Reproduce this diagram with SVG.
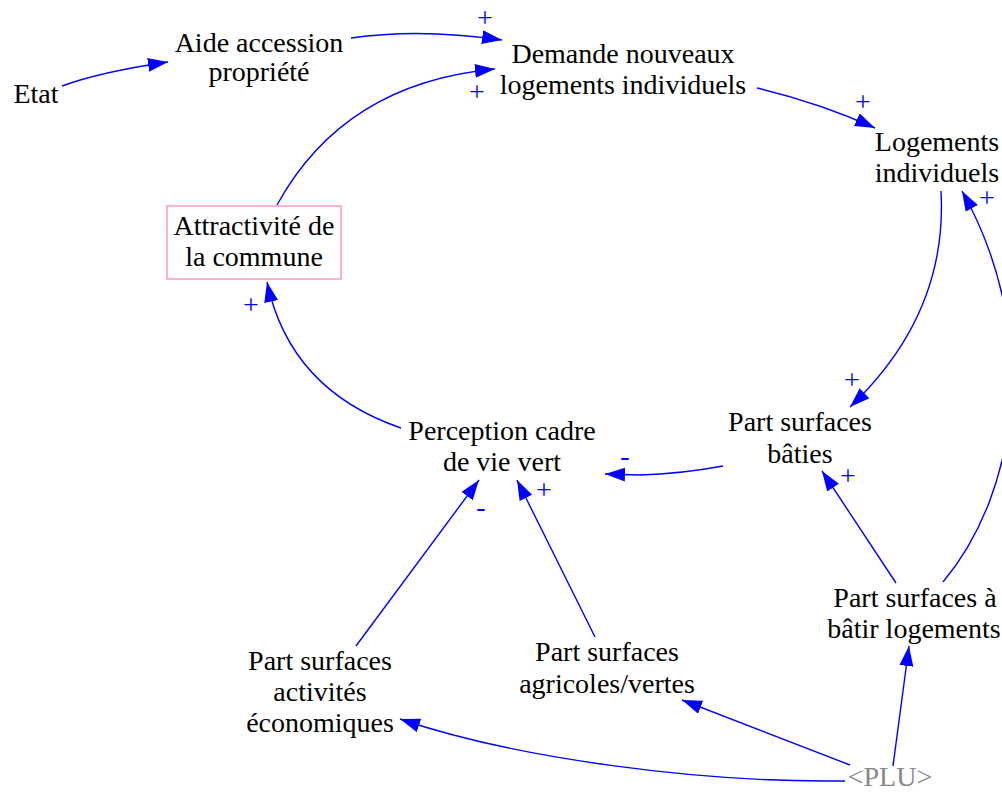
<svg xmlns="http://www.w3.org/2000/svg" width="1002" height="792" viewBox="0 0 1002 792">
<style>
.n{font-family:"Liberation Serif","Times New Roman",serif;font-size:28px;fill:#000;text-anchor:middle}
.g{fill:#888}
.c{fill:none;stroke:#0000ff;stroke-width:1.4;marker-end:url(#ah)}
.p{font-family:"Liberation Serif","Times New Roman",serif;font-size:28px;fill:#0000ff;text-anchor:middle}
</style>
<defs>
<marker id="ah" markerUnits="userSpaceOnUse" markerWidth="22" markerHeight="16" refX="20" refY="7" orient="auto">
<path d="M0,0 L20,7 L0,14 z" fill="#0000ff"/>
</marker>
</defs>
<rect width="1002" height="792" fill="#fff"/>
<g id="connectors">
<path class="c" d="M62,86 Q100,72 168,62"/>
<path class="c" d="M351,38 Q420,28 502,40"/>
<path class="c" d="M277,205 Q344,83 495,69"/>
<path class="c" d="M757,88 Q820,103 875,128"/>
<path class="c" d="M941,191 C946,280 910,350 850,407"/>
<path class="c" d="M943,582 C1020,490 1040,330 962,191"/>
<path class="c" d="M723,466 Q680,474 640,475 L605,474"/>
<path class="c" d="M401,428 Q290,390 267,282"/>
<path class="c" d="M356,646 L479,480"/>
<path class="c" d="M595,637 L517,480"/>
<path class="c" d="M896,583 L822,471"/>
<path class="c" d="M893,766 L909,646"/>
<path class="c" d="M850,765 L682,700"/>
<path class="c" d="M845,781 L825,781 C700,781 520,760 400,719"/>
<text class="p" x="485" y="27">+</text>
<text class="p" x="477" y="101">+</text>
<text class="p" x="863" y="111">+</text>
<text class="p" x="852" y="389">+</text>
<text class="p" x="987" y="207">+</text>
<text class="p" x="625" y="465">-</text>
<text class="p" x="251" y="314">+</text>
<text class="p" x="481" y="516">-</text>
<text class="p" x="544" y="499">+</text>
<text class="p" x="848" y="485">+</text>
</g>
<g id="etat"><text class="n" x="36" y="103">Etat</text></g>
<g id="aide"><text class="n" x="259" y="52">Aide accession</text><text class="n" x="259" y="81">propriété</text></g>
<g id="demande"><text class="n" x="623" y="63">Demande nouveaux</text><text class="n" x="623" y="94">logements individuels</text></g>
<g id="logements"><text class="n" x="937" y="151">Logements</text><text class="n" x="937" y="182">individuels</text></g>
<g id="attractivite"><rect x="167" y="206" width="174" height="73" fill="#fff" stroke="#ff88bb" stroke-width="1.3"/><text class="n" x="254" y="235">Attractivité de</text><text class="n" x="254" y="266">la commune</text></g>
<g id="perception"><text class="n" x="502" y="440">Perception cadre</text><text class="n" x="502" y="471">de vie vert</text></g>
<g id="baties"><text class="n" x="800" y="431">Part surfaces</text><text class="n" x="800" y="463">bâties</text></g>
<g id="a_batir"><text class="n" x="915" y="607">Part surfaces à</text><text class="n" x="914" y="638">bâtir logements</text></g>
<g id="agricoles"><text class="n" x="607" y="661">Part surfaces</text><text class="n" x="607" y="693">agricoles/vertes</text></g>
<g id="activites"><text class="n" x="320" y="670">Part surfaces</text><text class="n" x="320" y="701">activités</text><text class="n" x="320" y="732">économiques</text></g>
<g id="plu"><text class="n g" x="890" y="786">&lt;PLU&gt;</text></g>
</svg>
